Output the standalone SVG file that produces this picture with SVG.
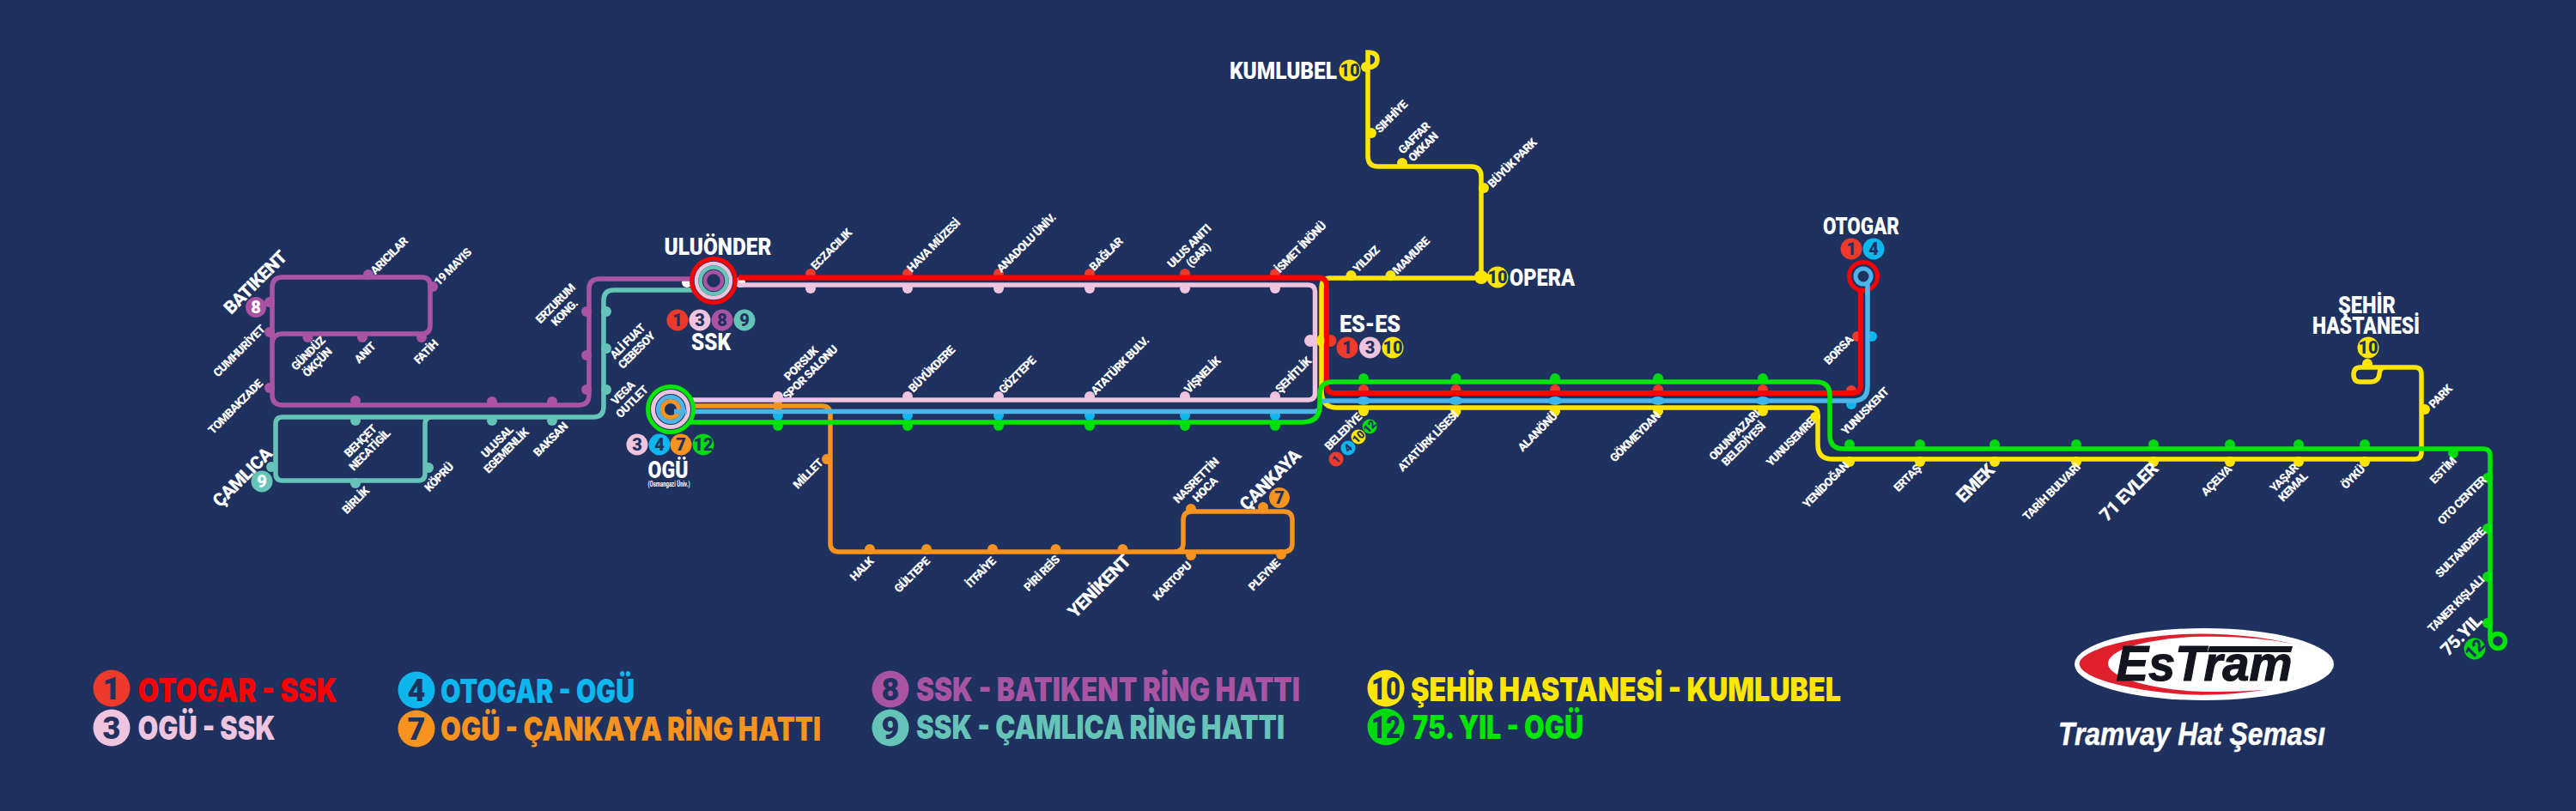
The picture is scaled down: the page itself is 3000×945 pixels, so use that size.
<svg xmlns="http://www.w3.org/2000/svg" width="3000" height="945" viewBox="0 0 3000 945">
<style>
text{font-family:"Roboto","Liberation Sans",sans-serif;font-weight:700;fill:#fff;text-anchor:middle}
.s{font-size:13.5px;font-weight:900;letter-spacing:-.7px}
.m{font-size:21px;font-weight:900;letter-spacing:-.7px}
.t{font-size:27px;font-weight:900}
.n{font-size:20px;fill:#1f315f;font-weight:900}
.sn{font-size:13px;fill:#1f315f;font-weight:900}
.ln{font-size:36px;fill:#1f315f;font-weight:900}
.l{font-family:"Inter","Liberation Sans",sans-serif;font-size:38px;font-weight:900;text-anchor:start}
.line{fill:none;stroke-width:5.5;stroke-linecap:butt}
.ring{fill:none}
.r{fill:#ee3a2a}.p{fill:#eec4df}.u{fill:#a954a3}.e{fill:#66c3b8}.o{fill:#f7931e}.b{fill:#0db7ee}.g{fill:#00d911}.y{fill:#ffe600}
</style>
<rect width="3000" height="945" fill="#1f315f"/>

<g id="stations">
<g id="st-aricilar"><circle class="u" cx="429" cy="320" r="6"/><text class="s" transform="translate(453 298) rotate(-45)" dy=".35em">ARICILAR</text></g>
<g id="st-19mayis"><circle class="u" cx="504" cy="334" r="6"/><text class="s" transform="translate(527 311) rotate(-45)" dy=".35em">19 MAYIS</text></g>
<g id="st-batikent"><circle class="u" cx="314" cy="352" r="6"/><text class="m" transform="translate(297 329) rotate(-45)" dy=".35em">BATIKENT</text></g>
<g id="st-cumhuriyet"><circle class="u" cx="314" cy="387" r="6"/><text class="s" transform="translate(278.5 409) rotate(-45)" dy=".35em">CUMHURİYET</text></g>
<g id="st-tombakzade"><circle class="u" cx="314" cy="452" r="6"/><text class="s" transform="translate(274 474) rotate(-45)" dy=".35em">TOMBAKZADE</text></g>
<g id="st-gunduz"><circle class="u" cx="358.5" cy="393" r="6"/><text class="s" transform="translate(364 417) rotate(-45)"><tspan x="0" dy="-.2em">GÜNDÜZ</tspan><tspan x="0" dy="1.1em">ÖKÇÜN</tspan></text></g>
<g id="st-anit"><circle class="u" cx="422" cy="393" r="6"/><text class="s" transform="translate(425 411) rotate(-45)" dy=".35em">ANIT</text></g>
<g id="st-fatih"><circle class="u" cx="491" cy="393" r="6"/><text class="s" transform="translate(496 410) rotate(-45)" dy=".35em">FATİH</text></g>
<g id="st-erzurum"><circle class="u" cx="683" cy="363" r="6"/><text class="s" transform="translate(652 359) rotate(-45)"><tspan x="0" dy="-.2em">ERZURUM</tspan><tspan x="0" dy="1.1em">KONG.</tspan></text></g>
<g id="st-alifuat"><circle class="u" cx="683" cy="414" r="6"/><circle class="e" cx="706" cy="363" r="6"/><circle class="e" cx="706" cy="406" r="6"/><text class="s" transform="translate(736 403) rotate(-45)"><tspan x="0" dy="-.2em">ALİ FUAT</tspan><tspan x="0" dy="1.1em">CEBESOY</tspan></text></g>
<g id="st-vega"><circle class="u" cx="683" cy="454" r="6"/><circle class="e" cx="706" cy="454" r="6"/><text class="s" transform="translate(730.5 463) rotate(-45)"><tspan x="0" dy="-.2em">VEGA</tspan><tspan x="0" dy="1.1em">OUTLET</tspan></text></g>
<g id="st-behcet"><circle class="u" cx="414" cy="467" r="6"/><circle class="e" cx="414" cy="490" r="6"/><text class="s" transform="translate(425 519) rotate(-45)"><tspan x="0" dy="-.2em">BEHÇET</tspan><tspan x="0" dy="1.1em">NECATİGİL</tspan></text></g>
<g id="st-ulusal"><circle class="u" cx="573" cy="468" r="6"/><circle class="e" cx="573" cy="490" r="6"/><text class="s" transform="translate(584 520) rotate(-45)"><tspan x="0" dy="-.2em">ULUSAL</tspan><tspan x="0" dy="1.1em">EGEMENLİK</tspan></text></g>
<g id="st-baksan"><circle class="u" cx="643" cy="468" r="6"/><circle class="e" cx="643" cy="490" r="6"/><text class="s" transform="translate(641 512) rotate(-45)" dy=".35em">BAKSAN</text></g>
<g id="st-camlica"><circle class="e" cx="316" cy="544" r="6"/><text class="m" transform="translate(282 556) rotate(-45)" dy=".35em">ÇAMLICA</text></g>
<g id="st-kopru"><circle class="e" cx="499" cy="545" r="6"/><text class="s" transform="translate(511 556) rotate(-45)" dy=".35em">KÖPRÜ</text></g>
<g id="st-birlik"><circle class="e" cx="414" cy="563" r="6"/><text class="s" transform="translate(414 583) rotate(-45)" dy=".35em">BİRLİK</text></g>

<g id="st-eczacilik"><circle class="r" cx="944" cy="319" r="6"/><circle class="p" cx="944" cy="336" r="6"/><text class="s" transform="translate(968 290.5) rotate(-45)" dy=".35em">ECZACILIK</text></g>
<g id="st-hava"><circle class="r" cx="1057" cy="319" r="6"/><circle class="p" cx="1057" cy="336" r="6"/><text class="s" transform="translate(1087 286) rotate(-45)" dy=".35em">HAVA MÜZESİ</text></g>
<g id="st-anadolu"><circle class="r" cx="1163" cy="319" r="6"/><circle class="p" cx="1163" cy="336" r="6"/><text class="s" transform="translate(1195 283) rotate(-45)" dy=".35em">ANADOLU ÜNİV.</text></g>
<g id="st-baglar"><circle class="r" cx="1269" cy="319" r="6"/><circle class="p" cx="1269" cy="336" r="6"/><text class="s" transform="translate(1288 296) rotate(-45)" dy=".35em">BAĞLAR</text></g>
<g id="st-ulus"><circle class="r" cx="1380" cy="319" r="6"/><circle class="p" cx="1380" cy="336" r="6"/><text class="s" transform="translate(1390 292) rotate(-45)"><tspan x="0" dy="-.2em">ULUS ANITI</tspan><tspan x="0" dy="1.1em">(GAR)</tspan></text></g>
<g id="st-ismet"><circle class="r" cx="1485" cy="319" r="6"/><circle class="p" cx="1485" cy="336" r="6"/><text class="s" transform="translate(1514.5 288) rotate(-45)" dy=".35em">İSMET İNÖNÜ</text></g>

<g id="st-porsuk"><circle class="p" cx="906" cy="462" r="6"/><circle class="o" cx="906" cy="473" r="6"/><circle class="b" cx="906" cy="484" r="6"/><circle class="g" cx="906" cy="496" r="6"/><text class="s" transform="translate(938 429) rotate(-45)"><tspan x="0" dy="-.2em">PORSUK</tspan><tspan x="0" dy="1.1em">SPOR SALONU</tspan></text></g>
<g id="st-buyukdere"><circle class="p" cx="1057" cy="462" r="6"/><circle class="b" cx="1057" cy="484" r="6"/><circle class="g" cx="1057" cy="496" r="6"/><text class="s" transform="translate(1085 430) rotate(-45)" dy=".35em">BÜYÜKDERE</text></g>
<g id="st-goztepe"><circle class="p" cx="1163" cy="462" r="6"/><circle class="b" cx="1163" cy="484" r="6"/><circle class="g" cx="1163" cy="496" r="6"/><text class="s" transform="translate(1184.5 437) rotate(-45)" dy=".35em">GÖZTEPE</text></g>
<g id="st-ataturkbulv"><circle class="p" cx="1269" cy="462" r="6"/><circle class="b" cx="1269" cy="484" r="6"/><circle class="g" cx="1269" cy="496" r="6"/><text class="s" transform="translate(1304 426) rotate(-45)" dy=".35em">ATATÜRK BULV.</text></g>
<g id="st-visnelik"><circle class="p" cx="1380" cy="462" r="6"/><circle class="b" cx="1380" cy="484" r="6"/><circle class="g" cx="1380" cy="496" r="6"/><text class="s" transform="translate(1400 437) rotate(-45)" dy=".35em">VİŞNELİK</text></g>
<g id="st-sehitlik"><circle class="p" cx="1485" cy="462" r="6"/><circle class="b" cx="1485" cy="484" r="6"/><circle class="g" cx="1485" cy="496" r="6"/><text class="s" transform="translate(1506 437) rotate(-45)" dy=".35em">ŞEHİTLİK</text></g>

<g id="st-millet"><circle class="o" cx="963" cy="535" r="6"/><text class="s" transform="translate(941 552) rotate(-45)" dy=".35em">MİLLET</text></g>
<g id="st-halk"><circle class="o" cx="1013" cy="640" r="6"/><text class="s" transform="translate(1003.5 663) rotate(-45)" dy=".35em">HALK</text></g>
<g id="st-gultepe"><circle class="o" cx="1079" cy="640" r="6"/><text class="s" transform="translate(1062 670) rotate(-45)" dy=".35em">GÜLTEPE</text></g>
<g id="st-itfaiye"><circle class="o" cx="1156" cy="640" r="6"/><text class="s" transform="translate(1142 667) rotate(-45)" dy=".35em">İTFAİYE</text></g>
<g id="st-pirireis"><circle class="o" cx="1229.5" cy="640" r="6"/><text class="s" transform="translate(1213 668) rotate(-45)" dy=".35em">PİRİ REİS</text></g>
<g id="st-yenikent"><circle class="o" cx="1307.5" cy="640" r="6"/><text class="m" transform="translate(1280 683) rotate(-45)" dy=".35em">YENİKENT</text></g>
<g id="st-kartopu"><circle class="o" cx="1387" cy="647" r="6"/><text class="s" transform="translate(1365 677) rotate(-45)" dy=".35em">KARTOPU</text></g>
<g id="st-pleyne"><circle class="o" cx="1492" cy="646" r="6"/><text class="s" transform="translate(1472 670) rotate(-45)" dy=".35em">PLEYNE</text></g>
<g id="st-nasrettin"><circle class="o" cx="1387" cy="593" r="6"/><text class="s" transform="translate(1398 565) rotate(-45)"><tspan x="0" dy="-.2em">NASRETTİN</tspan><tspan x="0" dy="1.1em">HOCA</tspan></text></g>
<g id="st-cankaya"><circle class="o" cx="1471" cy="591" r="6"/><text class="m" transform="translate(1479 559) rotate(-45)" dy=".35em">ÇANKAYA</text></g>

<g id="st-yildiz"><circle class="y" cx="1573.5" cy="321" r="6"/><text class="s" transform="translate(1591 302) rotate(-45)" dy=".35em">YILDIZ</text></g>
<g id="st-mamure"><circle class="y" cx="1619.5" cy="321" r="6"/><text class="s" transform="translate(1643 298) rotate(-45)" dy=".35em">MAMURE</text></g>
<g id="st-sihhiye"><circle class="y" cx="1597" cy="155" r="6"/><text class="s" transform="translate(1620 136) rotate(-45)" dy=".35em">SIHHİYE</text></g>
<g id="st-gaffar"><circle class="y" cx="1633" cy="190" r="6"/><text class="s" transform="translate(1652 166) rotate(-45)"><tspan x="0" dy="-.2em">GAFFAR</tspan><tspan x="0" dy="1.1em">OKKAN</tspan></text></g>
<g id="st-buyukpark"><circle class="y" cx="1728" cy="219" r="6"/><text class="s" transform="translate(1761 190) rotate(-45)" dy=".35em">BÜYÜK PARK</text></g>
<g id="st-kumlubel"><circle class="y" cx="1591" cy="78" r="6"/></g>
<g id="st-opera"><circle class="y" cx="1725" cy="323" r="8"/></g>
<g id="st-eses"><circle class="p" cx="1526" cy="397" r="7"/><circle class="r" cx="1549.5" cy="397" r="7"/></g>

<g id="st-belediye"><circle class="g" cx="1588" cy="441" r="6"/><circle class="r" cx="1588" cy="454" r="6"/><circle class="y" cx="1588" cy="479" r="6"/><text class="s" transform="translate(1564 503) rotate(-45)" dy=".35em">BELEDİYE</text></g>
<g id="st-ataturklisesi"><circle class="g" cx="1695.5" cy="441" r="6"/><circle class="r" cx="1695.5" cy="454" r="6"/><circle class="y" cx="1695.5" cy="479" r="6"/><text class="s" transform="translate(1663 514) rotate(-45)" dy=".35em">ATATÜRK LİSESİ</text></g>
<g id="st-alanonu"><circle class="g" cx="1811" cy="441" r="6"/><circle class="r" cx="1811" cy="454" r="6"/><circle class="y" cx="1811" cy="479" r="6"/><text class="s" transform="translate(1790.5 503) rotate(-45)" dy=".35em">ALANÖNÜ</text></g>
<g id="st-gokmeydan"><circle class="g" cx="1931" cy="441" r="6"/><circle class="r" cx="1931" cy="454" r="6"/><circle class="y" cx="1931" cy="479" r="6"/><text class="s" transform="translate(1904 509) rotate(-45)" dy=".35em">GÖKMEYDAN</text></g>
<g id="st-odunpazari"><circle class="g" cx="2053" cy="441" r="6"/><circle class="r" cx="2053" cy="454" r="6"/><circle class="y" cx="2053" cy="479" r="6"/><text class="s" transform="translate(2025 512) rotate(-45)"><tspan x="0" dy="-.2em">ODUNPAZARI</tspan><tspan x="0" dy="1.1em">BELEDİYESİ</tspan></text></g>
<g id="st-yunusemre"><circle class="y" cx="2114" cy="486" r="6"/><text class="s" transform="translate(2085 515) rotate(-45)" dy=".35em">YUNUSEMRE</text></g>
<g id="st-yunuskent"><circle class="r" cx="2156" cy="455" r="6"/><circle class="b" cx="2156" cy="471" r="6"/><text class="s" transform="translate(2172 479) rotate(-45)" dy=".35em">YUNUSKENT</text></g>
<g id="st-borsa"><circle class="r" cx="2163" cy="392" r="6"/><circle class="b" cx="2180" cy="392" r="6"/><text class="s" transform="translate(2141 408) rotate(-45)" dy=".35em">BORSA</text></g>
<g id="st-yenidogan"><circle class="g" cx="2154" cy="518" r="6"/><circle class="y" cx="2154" cy="538" r="6"/><text class="s" transform="translate(2126 565) rotate(-45)" dy=".35em">YENİDOĞAN</text></g>
<g id="st-ertas"><circle class="g" cx="2236" cy="518" r="6"/><circle class="y" cx="2236" cy="538" r="6"/><text class="s" transform="translate(2221 557) rotate(-45)" dy=".35em">ERTAŞ</text></g>
<g id="st-emek"><circle class="g" cx="2323" cy="518" r="6"/><circle class="y" cx="2323" cy="538" r="6"/><text class="m" transform="translate(2300 563) rotate(-45)" dy=".35em">EMEK</text></g>
<g id="st-tarih"><circle class="g" cx="2418" cy="518" r="6"/><circle class="y" cx="2418" cy="538" r="6"/><text class="s" transform="translate(2389 573) rotate(-45)" dy=".35em">TARİH BULVARI</text></g>
<g id="st-71evler"><circle class="g" cx="2508" cy="518" r="6"/><circle class="y" cx="2508" cy="538" r="6"/><text class="m" transform="translate(2479 573) rotate(-45)" dy=".35em">71 EVLER</text></g>
<g id="st-acelya"><circle class="g" cx="2597" cy="518" r="6"/><circle class="y" cx="2597" cy="538" r="6"/><text class="s" transform="translate(2581 560) rotate(-45)" dy=".35em">AÇELYA</text></g>
<g id="st-yasar"><circle class="g" cx="2677" cy="518" r="6"/><circle class="y" cx="2677" cy="538" r="6"/><text class="s" transform="translate(2665 562) rotate(-45)"><tspan x="0" dy="-.2em">YAŞAR</tspan><tspan x="0" dy="1.1em">KEMAL</tspan></text></g>
<g id="st-oyku"><circle class="g" cx="2754" cy="518" r="6"/><circle class="y" cx="2754" cy="538" r="6"/><text class="s" transform="translate(2740 556) rotate(-45)" dy=".35em">ÖYKÜ</text></g>
<g id="st-park"><circle class="y" cx="2824" cy="477" r="6"/><text class="s" transform="translate(2842 462) rotate(-45)" dy=".35em">PARK</text></g>
<g id="st-estim"><circle class="g" cx="2857" cy="528" r="6"/><text class="s" transform="translate(2845 548) rotate(-45)" dy=".35em">ESTİM</text></g>
<g id="st-otocenter"><circle class="g" cx="2897" cy="557" r="6"/><text class="s" transform="translate(2867 583) rotate(-45)" dy=".35em">OTO CENTER</text></g>
<g id="st-sultandere"><circle class="g" cx="2897" cy="616" r="6"/><text class="s" transform="translate(2865 644) rotate(-45)" dy=".35em">SULTANDERE</text></g>
<g id="st-taner"><circle class="g" cx="2897" cy="672" r="6"/><text class="s" transform="translate(2860 704) rotate(-45)" dy=".35em">TANER KIŞLALI</text></g>
<g id="st-75yil"><circle class="g" cx="2897" cy="726" r="6"/><text class="m" transform="translate(2866 740) rotate(-45)" dy=".35em">75.YIL</text></g>
<g id="st-sehirhastanesi"><circle class="y" cx="2757" cy="424" r="6"/></g>
<g id="st-ssk-stubs"><circle cx="800" cy="329" r="6" fill="#fff"/><circle cx="862" cy="329" r="6" fill="#fff"/></g>
</g>

<g id="connectors">
<path class="line" stroke="#a954a3" d="M820 325H698Q686 325 686 337V460Q686 472 674 472H329Q317 472 317 460V335Q317 323 329 323H491Q501 323 501 333V379Q501 389 491 389H329Q318 389 317 400"/>
<path class="line" stroke="#66c3b8" d="M820 338H715Q703 338 703 350V474Q703 486 691 486H329Q321 486 321 494V552Q321 560 329 560H487Q495 560 495 552V494Q495 486 503 486"/>
<path class="line" stroke="#eec4df" d="M860 332H1523Q1531.5 332 1531.5 340V458Q1531.5 466 1523 466H800"/>
<path class="line" stroke="#f7931e" d="M800 473H957Q967 473 967 483V633Q967 643 977 643H1495Q1505 643 1505 633V606Q1505 596 1495 596H1388Q1378 596 1378 606V633Q1378 643 1368 643"/>
<path class="line" stroke="#ffe600" d="M1593 79Q1604 78 1604 69Q1604 61 1593 61V182Q1593 194 1605 194H1713Q1725 194 1725 206V324H1549Q1539 324 1539 336V455Q1539 475 1557 475H2109Q2117 475 2117 483V518Q2117 535 2134 535H2812Q2820 535 2820 527V436Q2820 428 2812 428H2778Q2771 428 2771 436Q2770 445 2760 445H2749Q2741 445 2741 436.5Q2741 428 2749 428H2778"/>
<path class="line" stroke="#4db4e8" d="M785 479.5H1530Q1537 479.5 1537 473Q1537 467 1544 467H2158Q2175 467 2175 450V330"/>
<path class="line" stroke="#ff0000" style="stroke-width:6" d="M860 323.5H1535Q1545 323.5 1545 333V449Q1545 458 1554 458H2157Q2167 458 2167 448V335"/>
<path class="line" stroke="#00e600" d="M795 492H1517Q1537 492 1537 472V460Q1537 445 1552 445H2115Q2131 445 2131 461V507Q2131 523 2147 523H2892Q2900 523 2900 531V747M2917.5 747a8.5 8.5 0 1 1-17 0a8.5 8.5 0 1 1 17 0"/>
</g>

<g id="dots-top">
<ellipse class="y" cx="1538" cy="397" rx="4.5" ry="7"/>
<ellipse cx="1588" cy="467" rx="8" ry="5" fill="#3fb4e8"/><ellipse cx="1695.5" cy="467" rx="8" ry="5" fill="#3fb4e8"/><ellipse cx="1811" cy="467" rx="8" ry="5" fill="#3fb4e8"/><ellipse cx="1931" cy="467" rx="8" ry="5" fill="#3fb4e8"/><ellipse cx="2053" cy="467" rx="8" ry="5" fill="#3fb4e8"/>
</g>

<g id="hub-ssk">
<circle cx="831" cy="327" r="25.5" fill="#1f315f" stroke="#ff0000" stroke-width="5"/>
<circle cx="831" cy="327" r="20" class="ring" stroke="#eec4df" stroke-width="4.5"/>
<circle cx="831" cy="327" r="15.5" class="ring" stroke="#66c3b8" stroke-width="4.5"/>
<circle cx="831" cy="327" r="10" class="ring" stroke="#a954a3" stroke-width="4.5"/>
<text x="836" y="297" class="t" textLength="125" lengthAdjust="spacingAndGlyphs">ULUÖNDER</text>
<circle class="r" cx="789" cy="373" r="12.5"/><text class="n" x="789" y="373" dy=".35em">1</text>
<circle class="p" cx="815" cy="373" r="12.5"/><text class="n" x="815" y="373" dy=".35em">3</text>
<circle class="u" cx="841" cy="373" r="12.5"/><text class="n" x="841" y="373" dy=".35em">8</text>
<circle class="e" cx="867" cy="373" r="12.5"/><text class="n" x="867" y="373" dy=".35em">9</text>
<text x="828" y="408" class="t" textLength="46" lengthAdjust="spacingAndGlyphs">SSK</text>
</g>

<g id="hub-ogu">
<circle cx="781" cy="477" r="26.5" fill="#1f315f" stroke="#00e600" stroke-width="5"/>
<circle cx="781" cy="477" r="20.5" class="ring" stroke="#eec4df" stroke-width="5"/>
<circle cx="781" cy="477" r="14.5" class="ring" stroke="#4db4e8" stroke-width="5"/>
<circle cx="781" cy="477" r="9.5" class="ring" stroke="#f7931e" stroke-width="5"/>
<path d="M785 479.5H800" fill="none" stroke="#4db4e8" stroke-width="5.5"/>
<circle class="p" cx="742" cy="518" r="12.5"/><text class="n" x="742" y="518" dy=".35em">3</text>
<circle class="b" cx="768" cy="518" r="12.5"/><text class="n" x="768" y="518" dy=".35em">4</text>
<circle class="o" cx="793" cy="518" r="12.5"/><text class="n" x="793" y="518" dy=".35em">7</text>
<circle class="g" cx="819" cy="518" r="12.5"/><text class="n" x="819" y="518" dy=".35em">12</text>
<text x="778" y="557" class="t" textLength="47" lengthAdjust="spacingAndGlyphs">OGÜ</text>
<text x="779" y="567" font-size="9" textLength="49" lengthAdjust="spacingAndGlyphs">(Osmangazi Üniv.)</text>
</g>

<g id="hub-batikent"><circle class="u" cx="298" cy="358" r="12"/><text class="n" x="298" y="358" dy=".35em" style="fill:#fff">8</text></g>
<g id="hub-camlica"><circle class="e" cx="305" cy="561" r="12.5"/><text class="n" x="305" y="561" dy=".35em" style="fill:#fff">9</text></g>
<g id="hub-cankaya"><circle class="o" cx="1490" cy="580" r="12"/><text class="n" x="1490" y="580" dy=".35em">7</text></g>

<g id="hub-kumlubel"><text x="1494.5" y="92" class="t" textLength="125" lengthAdjust="spacingAndGlyphs">KUMLUBEL</text><circle class="y" cx="1572" cy="82" r="12.5"/><text class="n" x="1572" y="82" dy=".35em">10</text></g>
<g id="hub-opera"><circle class="y" cx="1744" cy="323" r="12.5"/><text class="n" x="1744" y="323" dy=".35em">10</text><text x="1796" y="333" class="t" textLength="76" lengthAdjust="spacingAndGlyphs">OPERA</text></g>
<g id="hub-eses"><text x="1595.5" y="387" class="t" textLength="71" lengthAdjust="spacingAndGlyphs">ES-ES</text>
<circle class="r" cx="1569" cy="405" r="12.5"/><text class="n" x="1569" y="405" dy=".35em">1</text>
<circle class="p" cx="1595.5" cy="405" r="12.5"/><text class="n" x="1595.5" y="405" dy=".35em">3</text>
<circle class="y" cx="1622" cy="405" r="12.5"/><text class="n" x="1622" y="405" dy=".35em">10</text></g>
<g id="hub-belediye">
<circle class="r" cx="1556" cy="535" r="8.5"/><text class="sn" transform="translate(1556 535) rotate(-45)" dy=".35em">1</text>
<circle class="b" cx="1570" cy="522" r="8.5"/><text class="sn" transform="translate(1570 522) rotate(-45)" dy=".35em">4</text>
<circle class="y" cx="1582" cy="509" r="8.5"/><text class="sn" transform="translate(1582 509) rotate(-45)" dy=".35em">10</text>
<circle class="g" cx="1595" cy="497" r="8.5"/><text class="sn" transform="translate(1595 497) rotate(-45)" dy=".35em">12</text>
</g>
<g id="hub-otogar">
<circle cx="2170" cy="322" r="16.5" fill="#1f315f" stroke="#ff0000" stroke-width="5"/>
<path d="M2175 330V345" fill="none" stroke="#4db4e8" stroke-width="5.5"/>
<circle cx="2170" cy="322" r="9" class="ring" stroke="#4db4e8" stroke-width="5"/>
<text x="2167.5" y="273" class="t" textLength="89" lengthAdjust="spacingAndGlyphs">OTOGAR</text>
<circle class="r" cx="2156" cy="290" r="12.5"/><text class="n" x="2156" y="290" dy=".35em">1</text>
<circle class="b" cx="2182" cy="290" r="12.5"/><text class="n" x="2182" y="290" dy=".35em">4</text>
</g>
<g id="hub-sehir">
<text x="2756.5" y="365" class="t" textLength="67" lengthAdjust="spacingAndGlyphs">ŞEHİR</text>
<text x="2755.5" y="389" class="t" textLength="125" lengthAdjust="spacingAndGlyphs">HASTANESİ</text>
<circle class="y" cx="2758" cy="405" r="12.5"/><text class="n" x="2758" y="405" dy=".35em">10</text>
</g>
<g id="hub-75yil"><circle class="g" cx="2882" cy="756" r="12.5"/><text class="n" transform="translate(2882 756) rotate(-45)" dy=".35em">12</text></g>

<g id="legend">
<g id="lg-1"><circle class="r" cx="130" cy="802" r="21.5"/><text class="ln" x="130" y="802" dy=".35em">1</text><text class="l" x="160.5" y="818" style="fill:#ff0000" textLength="232" lengthAdjust="spacingAndGlyphs">OTOGAR - SSK</text></g>
<g id="lg-3"><circle class="p" cx="130" cy="848" r="21.5"/><text class="ln" x="130" y="848" dy=".35em">3</text><text class="l" x="160.5" y="862" style="fill:#eec4df" textLength="160" lengthAdjust="spacingAndGlyphs">OGÜ - SSK</text></g>
<g id="lg-4"><circle class="b" cx="485" cy="804" r="21.5"/><text class="ln" x="485" y="804" dy=".35em">4</text><text class="l" x="513" y="819" style="fill:#0db7ee" textLength="226" lengthAdjust="spacingAndGlyphs">OTOGAR - OGÜ</text></g>
<g id="lg-7"><circle class="o" cx="485" cy="849" r="21.5"/><text class="ln" x="485" y="849" dy=".35em">7</text><text class="l" x="513" y="863" style="fill:#f7931e" textLength="443" lengthAdjust="spacingAndGlyphs">OGÜ - ÇANKAYA RİNG HATTI</text></g>
<g id="lg-8"><circle class="u" cx="1037" cy="803" r="21.5"/><text class="ln" x="1037" y="803" dy=".35em">8</text><text class="l" x="1067" y="817" style="fill:#a954a3" textLength="447" lengthAdjust="spacingAndGlyphs">SSK - BATIKENT RİNG HATTI</text></g>
<g id="lg-9"><circle class="e" cx="1037" cy="848" r="21.5"/><text class="ln" x="1037" y="848" dy=".35em">9</text><text class="l" x="1067" y="861" style="fill:#66c3b8" textLength="429" lengthAdjust="spacingAndGlyphs">SSK - ÇAMLICA RİNG HATTI</text></g>
<g id="lg-10"><circle class="y" cx="1614" cy="802" r="21.5"/><text class="ln" x="1614" y="802" dy=".35em" textLength="34" lengthAdjust="spacingAndGlyphs">10</text><text class="l" x="1643" y="817" style="fill:#ffe600" textLength="501" lengthAdjust="spacingAndGlyphs">ŞEHİR HASTANESİ - KUMLUBEL</text></g>
<g id="lg-12"><circle class="g" cx="1614" cy="847" r="21.5"/><text class="ln" x="1614" y="847" dy=".35em" textLength="34" lengthAdjust="spacingAndGlyphs">12</text><text class="l" x="1645" y="861" style="fill:#00e600" textLength="199" lengthAdjust="spacingAndGlyphs">75. YIL - OGÜ</text></g>
</g>

<g id="logo">
<ellipse cx="2567" cy="774" rx="151" ry="42" fill="#fff"/>
<path fill="#e01f2d" transform="translate(2340 710) scale(.3333)" d="M1052 137C900 90 700 78 560 90C380 105 245 150 245 190C245 240 420 285 620 298C720 303 820 292 892 282C800 288 700 290 620 285C450 270 345 230 345 190C345 140 480 105 640 96C800 92 950 105 1052 137Z"/>
<path fill="#14141f" d="M2573 753H2670L2668 760H2571Z"/>
<text x="2567" y="793" style="font-family:'Liberation Sans',sans-serif;font-weight:700;font-style:italic;font-size:58px;fill:#14141f;stroke:#14141f;stroke-width:1.2px" textLength="205" lengthAdjust="spacingAndGlyphs">EsTram</text>
<text x="2552.5" y="868" style="font-family:'Liberation Sans',sans-serif;font-weight:700;font-style:italic;font-size:37px;stroke:#fff;stroke-width:.5px" textLength="311" lengthAdjust="spacingAndGlyphs">Tramvay Hat Şeması</text>
</g>
</svg>
